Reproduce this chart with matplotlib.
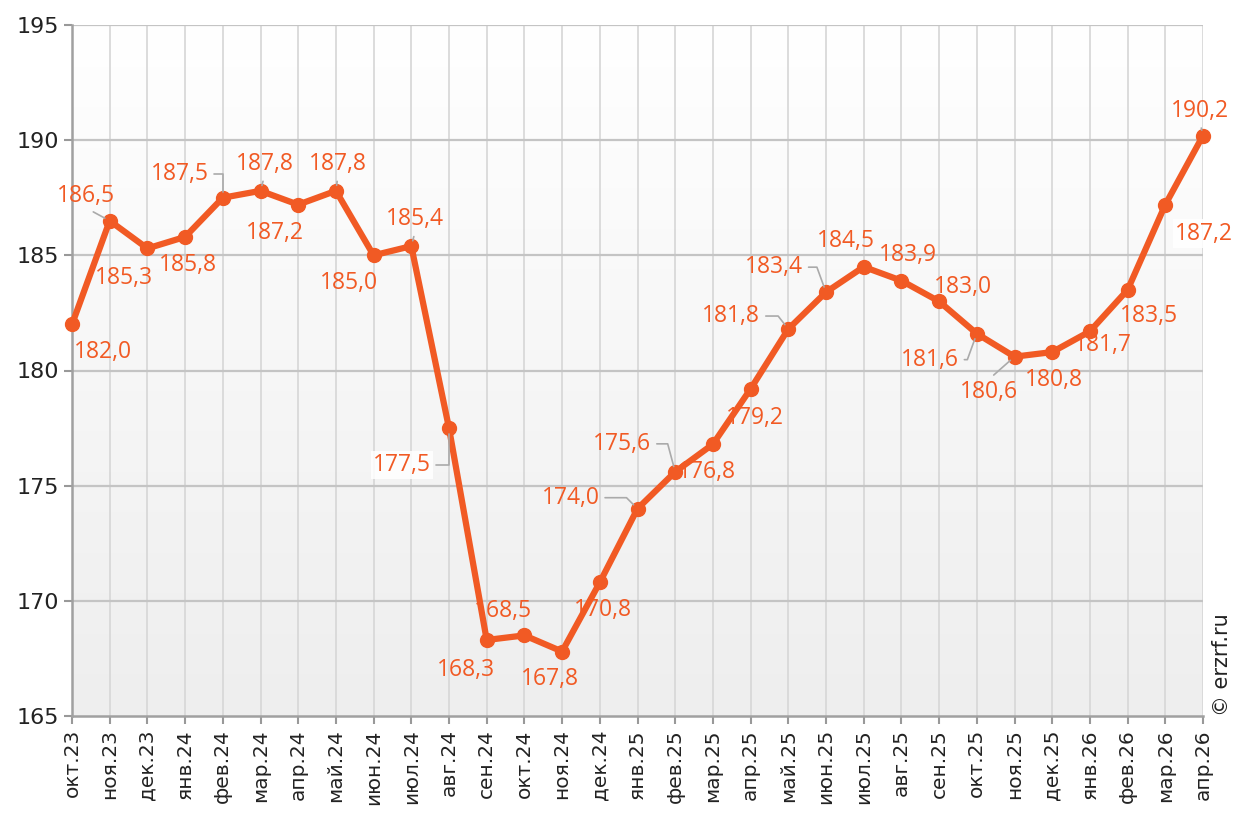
import numpy as np
import matplotlib
matplotlib.use("Agg")
import matplotlib.pyplot as plt

months = ["окт.23", "ноя.23", "дек.23", "янв.24", "фев.24", "мар.24", "апр.24", "май.24",
          "июн.24", "июл.24", "авг.24", "сен.24", "окт.24", "ноя.24", "дек.24", "янв.25",
          "фев.25", "мар.25", "апр.25", "май.25", "июн.25", "июл.25", "авг.25", "сен.25",
          "окт.25", "ноя.25", "дек.25", "янв.26", "фев.26", "мар.26", "апр.26"]
values = [182.0, 186.5, 185.3, 185.8, 187.5, 187.8, 187.2, 187.8, 185.0, 185.4, 177.5,
          168.3, 168.5, 167.8, 170.8, 174.0, 175.6, 176.8, 179.2, 181.8, 183.4, 184.5,
          183.9, 183.0, 181.6, 180.6, 180.8, 181.7, 183.5, 187.2, 190.2]

# label offsets in pixels (dx, dy with dy up)
offsets = [(31, -28), (-24, 25), (-23, -30), (3, -28), (-43, 24), (4, 27), (-23, -28),
           (2, 27), (-25, -28), (4, 27), (-47, -37), (-21, -30), (-21, 24), (-12, -27),
           (3, -28), (-67, 11), (-53, 28), (-6, -28), (4, -29), (-57, 13), (-52, 25),
           (-18, 26), (7, 26), (24, 14), (-47, -26), (-26, -35), (2, -28), (13, -14),
           (21, -26), (39, -29), (-3, 25)]
# leaders: index -> angleB at the point (None = straight)
leaders = {1: None, 4: 90, 5: None, 7: None, 9: None, 10: 90, 15: 135, 16: 105,
           19: 128, 20: 110, 24: 70, 25: None, 30: None}
boxed = [10, 29]

orange = "#F15A24"
x = np.arange(len(values))

fig = plt.figure(figsize=(12.34, 8.14), dpi=100)
ax = fig.add_axes([72 / 1234, 98 / 814, (1203 - 72) / 1234, (716 - 25) / 814])

# gradient background, white on top
grad = np.linspace(0, 1, 256).reshape(-1, 1)
cmap = matplotlib.colors.LinearSegmentedColormap.from_list("bg", ["#ffffff", "#eeeeee"])
ax.imshow(grad, extent=(0, 1, 0, 1), transform=ax.transAxes, cmap=cmap,
          aspect="auto", origin="upper", zorder=0)

ax.set_xlim(0, len(values) - 1)
ax.set_ylim(165, 195)
ax.set_yticks(np.arange(165, 196, 5))
ax.set_xticks(x)
ax.set_xticklabels(months, rotation=90, fontsize=14.5, color="#222222")
ax.tick_params(axis="y", labelsize=16, colors="#999999", labelcolor="#222222", length=6, width=1.5)
ax.tick_params(axis="x", colors="#999999", labelcolor="#222222", length=6, width=1.5)

for v in x:
    ax.axvline(v, color="#d6d6d6", lw=1.2, zorder=1)
for yv in range(170, 196, 5):
    ax.axhline(yv, color="#c4c4c4", lw=1.6, zorder=1)

for s in ["top", "right"]:
    ax.spines[s].set_visible(False)
for s in ["left", "bottom"]:
    ax.spines[s].set_color("#a0a0a0")
    ax.spines[s].set_linewidth(1.8)

ax.plot(x, values, color=orange, lw=4.5, marker="o", markersize=10,
        solid_capstyle="round", zorder=5, clip_on=False)

for i, v in enumerate(values):
    dx, dy = offsets[i]
    label = f"{v:.1f}".replace(".", ",")
    kw = {}
    if i in leaders:
        ang = leaders[i]
        relx = 1.0 if dx < -30 else 0.5
        rely = 0.5 if abs(dx) > 30 else (0.0 if dy > 0 else 1.0)
        cs = "arc3" if ang is None else f"angle,angleA=0,angleB={ang},rad=0"
        kw["arrowprops"] = dict(arrowstyle="-", color="#aaaaaa", lw=1.2,
                                shrinkA=2, shrinkB=4, relpos=(relx, rely),
                                connectionstyle=cs)
    if i in boxed:
        kw["bbox"] = dict(boxstyle="square,pad=0.1", fc="white", ec="none", alpha=0.85)
    ax.annotate(label, (i, v), xytext=(dx, dy), textcoords="offset pixels",
                ha="center", va="center", fontsize=16.5, color=orange,
                family=["Open Sans", "DejaVu Sans"], zorder=6, annotation_clip=False, **kw)

fig.text(1222 / 1234, 98 / 814, "© erzrf.ru", rotation=90, ha="center", va="bottom",
         fontsize=15, color="#222222")

fig.savefig("out.png", dpi=100)
